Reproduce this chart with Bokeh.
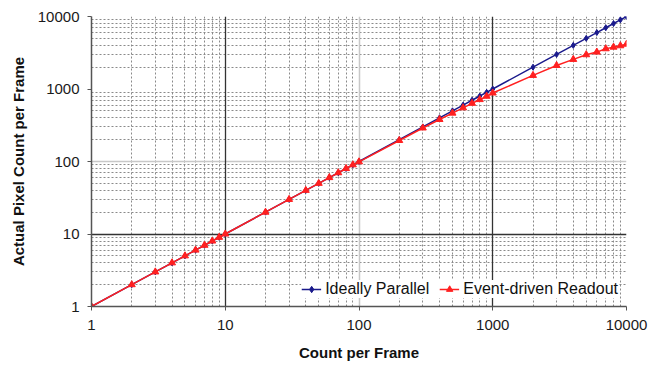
from bokeh.plotting import figure
from bokeh.models import Grid, FixedTicker, Legend, LegendItem, CustomJSTickFormatter
from bokeh.embed import file_html
from bokeh.resources import INLINE

count = [1, 2, 3, 4, 5, 6, 7, 8, 9, 10, 20, 30, 40, 50, 60, 70, 80, 90, 100,
         200, 300, 400, 500, 600, 700, 800, 900, 1000,
         2000, 3000, 4000, 5000, 6000, 7000, 8000, 9000, 10000]
ideal = [1, 2, 3, 4, 5, 6, 7, 8, 9, 10, 20, 30, 40, 50, 60, 70, 80, 90, 100,
         200, 300, 400, 500, 600, 700, 800, 900, 1000,
         2000, 3000, 4000, 5000, 6000, 7000, 8000, 9000, 10000]
event = [1, 2, 3, 4, 5, 6, 7, 8, 9, 10, 20, 30, 40, 50, 60, 70, 80, 90, 99,
         195, 290, 380, 465, 550, 635, 715, 795, 880,
         1540, 2110, 2560, 2970, 3230, 3590, 3780, 3950, 4150]

major_ticks = [1, 10, 100, 1000, 10000]
dark_major = [10, 1000]
light_major = [100]
minor_ticks = [2, 3, 4, 5, 6, 7, 8, 9, 20, 30, 40, 50, 60, 70, 80, 90,
               200, 300, 400, 500, 600, 700, 800, 900,
               2000, 3000, 4000, 5000, 6000, 7000, 8000, 9000]

FONT = "Liberation Sans"

p = figure(width=658, height=365, x_axis_type="log", y_axis_type="log",
           x_range=(1, 10000), y_range=(1, 10000),
           output_backend="svg", toolbar_location=None,
           min_border_left=91, min_border_right=32, min_border_top=16, min_border_bottom=59)
p.outline_line_color = None
p.background_fill_color = "white"
p.border_fill_color = "white"
p.grid.visible = False

# minor dotted grids
p.add_layout(Grid(dimension=0, ticker=FixedTicker(ticks=minor_ticks + [10000]),
                  grid_line_color="#8a8a8a", grid_line_dash="2 2", grid_line_width=1))
p.add_layout(Grid(dimension=1, ticker=FixedTicker(ticks=minor_ticks),
                  grid_line_color="#8a8a8a", grid_line_dash="2 2", grid_line_width=1))
# light major
p.add_layout(Grid(dimension=0, ticker=FixedTicker(ticks=light_major),
                  grid_line_color="#c8c8c8", grid_line_width=1.5))
p.add_layout(Grid(dimension=1, ticker=FixedTicker(ticks=light_major),
                  grid_line_color="#c8c8c8", grid_line_width=1.5))
# dark major
p.add_layout(Grid(dimension=0, ticker=FixedTicker(ticks=dark_major),
                  grid_line_color="#333333", grid_line_width=1.3))
p.add_layout(Grid(dimension=1, ticker=FixedTicker(ticks=[10]),
                  grid_line_color="#333333", grid_line_width=1.3))

fmt = CustomJSTickFormatter(code="return String(Math.round(tick));")
for ax in (p.xaxis, p.yaxis):
    ax.ticker = FixedTicker(ticks=major_ticks)
    ax.formatter = fmt
    ax.axis_line_color = "#555555"
    ax.axis_line_width = 1.5
    ax.major_tick_line_color = "#555555"
    ax.major_tick_out = 4
    ax.major_tick_in = 0
    ax.minor_tick_line_color = None
    ax.major_label_text_font = FONT
    ax.major_label_text_font_size = "15px"
    ax.major_label_text_color = "#1a1a1a"
    ax.axis_label_text_font = FONT
    ax.axis_label_text_font_size = "15px"
    ax.axis_label_text_font_style = "bold"
    ax.axis_label_text_color = "#111111"

p.xaxis.axis_label = "Count per Frame"
p.yaxis.axis_label = "Actual Pixel Count per Frame"
p.xaxis.major_label_standoff = 9
p.yaxis.major_label_standoff = 8
p.xaxis.axis_label_standoff = 11
p.yaxis.axis_label_standoff = 8

l1 = p.line(count, ideal, line_color="#1a1a8c", line_width=1.5)
m1 = p.scatter(count, ideal, marker="diamond", size=6, fill_color="#1a1a8c", line_color="#1a1a8c")
l2 = p.line(count, event, line_color="#ff2020", line_width=1.5)
m2 = p.scatter(count, event, marker="triangle", size=7, fill_color="#ff2020", line_color="#ff2020")

legend = Legend(items=[LegendItem(label="Ideally Parallel", renderers=[l1, m1]),
                       LegendItem(label="Event-driven Readout", renderers=[l2, m2])],
                location="bottom_right", orientation="horizontal",
                label_text_font=FONT, label_text_font_size="16px", label_text_color="#111111",
                glyph_width=20, glyph_height=16, label_standoff=4, spacing=10,
                padding=7, margin=8, border_line_color=None,
                background_fill_color="white", background_fill_alpha=1.0)
p.add_layout(legend)

open("out.html", "w").write(file_html(p, INLINE))
